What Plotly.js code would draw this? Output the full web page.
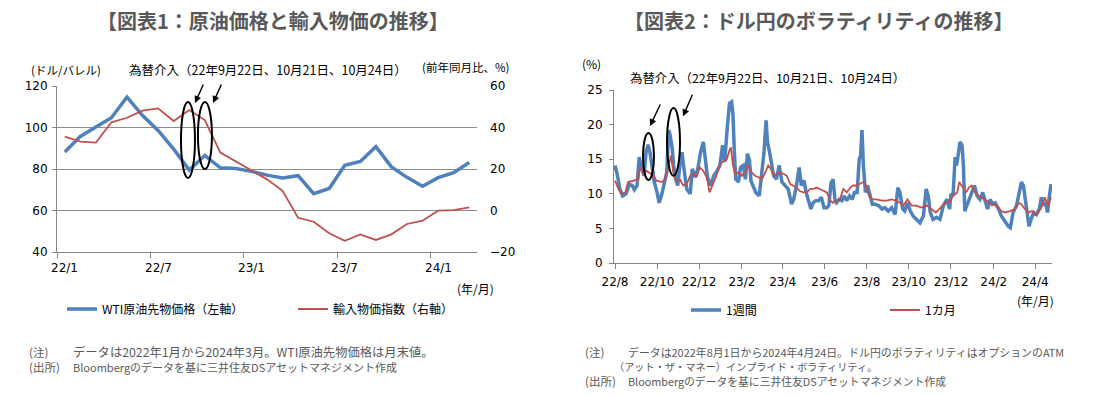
<!DOCTYPE html>
<html><head><meta charset="utf-8">
<script src="https://cdn.plot.ly/plotly-3.0.1.min.js"></script>
<style>html,body{margin:0;padding:0;background:#fff}#chart{width:1100px;height:397px}</style>
</head><body><div id="chart"></div>
<script>
// ---------- Chart 1 data (monthly, 2022/1 - 2024/3) ----------
const months = ['22/1','22/2','22/3','22/4','22/5','22/6','22/7','22/8','22/9','22/10','22/11','22/12',
  '23/1','23/2','23/3','23/4','23/5','23/6','23/7','23/8','23/9','23/10','23/11','23/12','24/1','24/2','24/3'];
const wti = [88.15,95.72,100.28,104.69,114.67,105.76,98.62,89.55,79.49,86.53,80.55,80.26,
  78.87,77.05,75.67,76.78,68.09,70.64,81.80,83.63,90.79,81.02,75.96,71.65,75.85,78.26,83.17];
const importPrice = [35.6,33.2,32.7,42.5,44.7,48.1,49.2,43.1,48.4,43.6,27.9,23.5,
  19.5,15.0,9.5,-3.5,-5.4,-11.0,-14.6,-11.5,-14.2,-11.5,-6.5,-4.9,-0.1,0.2,1.5];
const labelMonths = ['22/1','22/7','23/1','23/7','24/1'];

// ---------- Chart 2 data (days since 2022-08-01) ----------
const vol1wDay = [0,3,7,11,16,21,25,28,32,35,39,42,45,48,51,54,57,61,64,68,71,75,78,80,83,85,88,91,94,97,100,104,109,112,116,120,124,128,131,134,139,143,148,
  152,156,159,163,166,169,171,173,175,179,182,186,189,192,195,197,201,204,209,213,216,219,221,224,227,230,234,238,242,246,251,256,259,263,267,270,274,277,280,284,287,291,295,299,303,307,310,
  313,316,319,321,325,329,332,336,340,344,347,351,354,356,358,360,363,366,370,373,377,382,387,391,396,401,406,410,413,417,420,424,428,432,437,442,447,451,454,457,461,466,471,474,
  476,481,485,487,490,493,495,498,500,503,505,507,510,514,517,521,525,529,533,536,540,544,547,551,556,560,565,570,573,577,582,586,589,592,595,598,600,603,607,611,615,618,621,624,627,629,632];
const vol1w = [14.1,12.9,10.7,9.7,10.0,11.4,11.2,10.6,11.2,15.3,13.6,12.6,16.0,17.1,15.8,13.6,11.7,10.2,8.7,10.0,11.2,13.1,19.2,18.4,16.5,14.1,12.1,11.2,14.1,16.0,13.6,10.7,10.0,13.6,12.4,13.6,16.0,17.5,15.0,12.4,11.2,12.6,13.3,
  14.1,17.0,14.6,19.9,23.1,23.3,21.4,16.0,12.1,11.7,13.8,14.1,12.1,15.8,14.8,11.9,10.9,10.2,9.7,13.6,16.0,20.6,17.5,16.0,14.1,12.6,12.1,14.1,11.7,11.2,10.7,8.5,9.2,11.2,13.8,11.2,11.9,10.2,9.0,7.8,8.7,9.0,9.0,9.5,8.0,8.0,8.3,
  11.5,12.1,9.0,8.7,9.2,9.0,9.7,9.0,9.7,9.2,10.2,10.2,15.0,15.5,19.2,14.1,10.2,11.2,9.7,8.5,8.5,8.3,7.8,8.0,7.5,8.0,7.0,10.9,10.2,7.8,7.5,8.7,7.5,6.8,6.3,5.8,6.8,10.7,9.7,7.3,6.3,6.6,6.3,7.8,
  8.3,9.2,7.8,10.0,9.7,15.3,14.1,16.0,17.5,17.0,14.1,7.5,8.3,9.2,10.2,11.2,9.7,9.2,10.2,9.2,7.8,9.2,8.5,8.7,7.8,6.8,6.1,5.3,5.1,7.3,8.3,10.2,11.7,11.2,9.2,7.3,5.3,6.3,7.3,7.0,7.8,9.5,8.3,8.7,7.3,9.2,11.4];
const vol1mDay = [0,5,10,15,19,27,34,36,41,46,51,56,60,68,72,77,81,85,89,94,99,104,109,114,118,123,128,133,137,143,147,
  152,157,162,166,168,171,174,179,184,188,193,198,203,208,213,217,222,226,230,234,239,244,249,254,258,263,268,273,278,283,287,292,297,302,307,
  312,316,321,326,331,336,341,345,350,355,360,364,367,372,379,387,394,401,408,413,418,424,430,437,444,452,459,465,
  471,478,486,490,496,499,502,506,509,513,517,522,527,531,539,546,553,560,565,572,580,585,589,594,599,604,611,618,623,627,632];
const vol1m = [11.9,10.7,10.0,10.2,11.7,11.9,12.1,13.8,12.9,13.3,12.9,12.6,11.9,11.7,12.1,13.6,15.5,12.9,11.9,12.1,11.2,11.4,12.6,12.9,12.4,13.8,13.3,12.4,10.2,11.7,12.6,
  14.3,14.6,15.0,16.3,16.7,14.1,12.9,13.1,12.6,13.1,14.1,13.1,12.6,12.4,12.1,12.9,14.1,13.6,12.6,12.9,13.1,12.9,12.6,11.4,11.2,10.9,10.4,10.2,10.2,10.7,10.7,10.9,10.7,10.4,10.2,
  9.0,8.7,9.0,9.2,10.7,10.2,10.9,11.2,11.2,11.4,11.7,11.2,10.0,9.2,9.2,9.0,9.0,9.2,9.0,8.7,8.3,9.2,8.3,8.3,8.0,8.3,7.8,7.3,
  7.9,8.7,9.0,9.7,10.2,11.7,11.2,10.8,10.2,10.9,11.2,10.2,9.7,9.5,9.0,8.5,8.3,7.5,7.3,7.5,7.8,8.7,8.5,7.8,7.3,7.5,7.0,8.0,9.5,8.3,9.5];

// ---------- helpers ----------
const W = 1100, H = 397;
const px = x => x / W, py = y => 1 - y / H;
const BASE = Date.UTC(2022, 7, 1);
const dayToDate = d => new Date(BASE + d * 86400000).toISOString().replace('T', ' ').slice(0, 19);
const idx = months.map((_, i) => i);
const BLUE = '#4F81BD', RED = '#C0504D', AXIS = '#868686';
const JP = 'Noto Sans CJK JP', NUM = 'DejaVu Sans';

const traces = [
  {x: idx, y: wti, xaxis: 'x', yaxis: 'y', mode: 'lines', name: 'WTI原油先物価格（左軸）',
   line: {color: BLUE, width: 3.5}, legend: 'legend'},
  {x: idx, y: importPrice, xaxis: 'x', yaxis: 'y2', mode: 'lines', name: '輸入物価指数（右軸）',
   line: {color: RED, width: 1.8}, legend: 'legend'},
  {x: vol1wDay.map(dayToDate), y: vol1w, xaxis: 'x2', yaxis: 'y3', mode: 'lines', name: '1週間',
   line: {color: BLUE, width: 3.5}, legend: 'legend2'},
  {x: vol1mDay.map(dayToDate), y: vol1m, xaxis: 'x2', yaxis: 'y3', mode: 'lines', name: '1カ月',
   line: {color: RED, width: 1.8}, legend: 'legend2'}
];

function txt(text, x, y, o = {}) {
  return Object.assign({text, x: px(x), y: py(y), xref: 'paper', yref: 'paper', showarrow: false,
    xanchor: 'left', yanchor: 'middle', font: {family: JP, size: 12, color: '#000'}}, o);
}
const GRAY = '#595959';
const note = s => ({font: {family: JP, size: s, color: GRAY}});
const annotations = [
  txt('【図表1：原油価格と輸入物価の推移】', 273, 20, {xanchor: 'center', font: {family: JP, size: 20, color: GRAY, weight: 'bold'}}),
  txt('【図表2：ドル円のボラティリティの推移】', 818, 20, {xanchor: 'center', font: {family: JP, size: 20, color: GRAY, weight: 'bold'}}),
  txt('(ドル/バレル)', 29, 70, {font: {family: JP, size: 11.5, color: '#000'}}),
  txt('為替介入（22年9月22日、10月21日、10月24日）', 127, 70, {font: {family: JP, size: 12.5, color: '#000'}}),
  txt('(前年同月比、%)', 420, 67, {font: {family: JP, size: 11.5, color: '#000'}}),
  txt('(%)', 580, 64),
  txt('為替介入（22年9月22日、10月21日、10月24日）', 628, 78, {font: {family: JP, size: 12.4, color: '#000'}}),
  txt('(年/月)', 475, 288, {xanchor: 'center'}),
  txt('(年/月)', 1035, 300, {xanchor: 'center'}),
  txt('(注)', 27, 352, note(11.5)),
  txt('データは2022年1月から2024年3月。WTI原油先物価格は月末値。', 71, 352, note(12.3)),
  txt('(出所)', 27, 367, note(11.5)),
  txt('Bloombergのデータを基に三井住友DSアセットマネジメント作成', 71, 367, note(11)),
  txt('(注)', 583, 352, note(11.5)),
  txt('データは2022年8月1日から2024年4月24日。ドル円のボラティリティはオプションのATM', 626, 352, note(10.9)),
  txt('（アット・ザ・マネー）インプライド・ボラティリティ。', 612, 366, note(10.2)),
  txt('(出所)', 583, 381, note(11.5)),
  txt('Bloombergのデータを基に三井住友DSアセットマネジメント作成', 626, 381, note(10.8))
];
// category labels of chart 1 (centred on their category)
labelMonths.forEach(m => annotations.push({text: m, x: months.indexOf(m), y: py(268), xref: 'x', yref: 'paper',
  showarrow: false, xanchor: 'center', yanchor: 'middle', font: {family: NUM, size: 12, color: '#000'}}));
// arrows pointing at the intervention ellipses
const arrow = (x, y, xr, yr, ax, ay) => ({x, y, xref: xr, yref: yr, ax, ay, axref: 'pixel', ayref: 'pixel', text: '',
  showarrow: true, arrowhead: 2, arrowsize: 1, arrowwidth: 1.4, arrowcolor: '#000'});
annotations.push(arrow(8.37, 111.8, 'x', 'y', 9, -20));
annotations.push(arrow(9.53, 111.8, 'x', 'y', 9, -20));
annotations.push(arrow(dayToDate(50.7), 19.8, 'x2', 'y3', 11, -23));
annotations.push(arrow(dayToDate(98.6), 21.2, 'x2', 'y3', 10, -23));

const ell = (x0, x1, y0, y1, xr, yr) => ({type: 'circle', xref: xr, yref: yr, x0, x1, y0, y1,
  line: {color: '#000', width: 2}, fillcolor: 'rgba(0,0,0,0)'});
const shapes = [
  ell(7.47, 8.37, 75.7, 112.3, 'x', 'y'),
  ell(8.56, 9.46, 80.0, 112.3, 'x', 'y'),
  ell(dayToDate(40.6), dayToDate(56.5), 12.0, 18.8, 'x2', 'y3'),
  ell(dayToDate(75.4), dayToDate(94.2), 12.6, 22.4, 'x2', 'y3')
];

const tickFont = {family: NUM, size: 12, color: '#000'};
const layout = {
  width: W, height: H, margin: {l: 0, r: 0, t: 0, b: 0, autoexpand: false},
  paper_bgcolor: '#fff', plot_bgcolor: 'rgba(0,0,0,0)',
  font: {family: JP, size: 12, color: '#000'},
  xaxis: {domain: [px(57), px(477)], range: [-0.5, months.length - 0.5], anchor: 'y',
    tickvals: labelMonths.map(m => months.indexOf(m) - 0.5), showticklabels: false,
    ticks: 'outside', ticklen: 5, tickcolor: AXIS, showline: true, linecolor: AXIS, linewidth: 1,
    showgrid: false, zeroline: false, fixedrange: true},
  yaxis: {domain: [py(252), py(86)], range: [40, 120], tick0: 40, dtick: 20, anchor: 'x',
    showgrid: true, gridcolor: '#8c8c8c', gridwidth: 1, showline: true, linecolor: AXIS,
    ticks: 'outside', ticklen: 4, tickcolor: AXIS, tickfont: tickFont, ticklabelstandoff: 2, zeroline: false},
  yaxis2: {overlaying: 'y', side: 'right', anchor: 'x', range: [-20, 60], tick0: -20, dtick: 20,
    showgrid: false, showline: false, ticks: '', tickfont: tickFont, ticklabelstandoff: 12, zeroline: false},
  xaxis2: {domain: [px(614), px(1052)], type: 'date', anchor: 'y3',
    range: [dayToDate(-1.45), dayToDate(633.4)], tick0: '2022-08-01', dtick: 'M2', tickformat: '%y/%-m',
    ticks: 'outside', ticklen: 5, tickcolor: AXIS, showline: true, linecolor: AXIS,
    tickfont: tickFont, ticklabelstandoff: 3, showgrid: false, zeroline: false},
  yaxis3: {domain: [py(263), py(90)], range: [0, 25], dtick: 5, anchor: 'x2',
    showgrid: false, showline: true, linecolor: AXIS, ticks: 'outside', ticklen: 4, tickcolor: AXIS,
    tickfont: tickFont, ticklabelstandoff: 4, zeroline: false},
  legend: {x: px(62), y: py(309), xanchor: 'left', yanchor: 'middle', orientation: 'h',
    entrywidth: 186, entrywidthmode: 'pixels', bgcolor: 'rgba(0,0,0,0)', font: {family: JP, size: 12}},
  legend2: {x: px(686), y: py(310), xanchor: 'left', yanchor: 'middle', orientation: 'h',
    entrywidth: 154, entrywidthmode: 'pixels', bgcolor: 'rgba(0,0,0,0)', font: {family: JP, size: 12}},
  annotations, shapes
};
Plotly.newPlot('chart', traces, layout, {staticPlot: true, displayModeBar: false});
</script></body></html>
